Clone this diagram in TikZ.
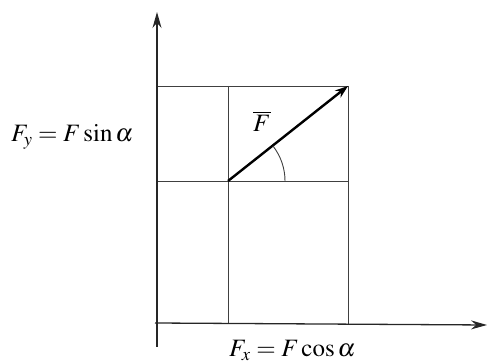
\documentclass[tikz,border=0pt]{standalone}
\usepackage{mathptmx}
\usetikzlibrary{arrows.meta,calc}
\begin{document}
\begin{tikzpicture}[x=1pt,y=-1pt,
  gridline/.style={draw=black!75,line width=0.9pt},
  axisline/.style={draw=black!85,line width=1.3pt},
  force/.style={draw=black,line width=2.4pt,-{Stealth[length=13pt,width=9pt]}},
  lbl/.style={inner sep=0pt,font=\fontsize{25}{29}\selectfont}]
\useasboundingbox (0,0) rectangle (488,363);
% named points
\coordinate (Ybot) at (157,347);
\coordinate (Ytop) at (157,12);
\coordinate (Xl) at (155,323);
\coordinate (Xr) at (487,325);
\coordinate (TL) at (157,86);
\coordinate (TM) at (228,86);
\coordinate (TR) at (348,86);
\coordinate (ML) at (157,181);
\coordinate (O) at (228,181);
\coordinate (MR) at (348,181);
\coordinate (BM) at (228,323);
\coordinate (BR) at (348,324);
% grid
\draw[gridline] (TL) -- (TR) -- (BR);
\draw[gridline] (ML) -- (MR);
\draw[gridline] (TM) -- (BM);
% axes
\draw[axisline,-{Stealth[length=16pt,width=9pt]}] (Ybot) -- (Ytop);
\draw[axisline,-{Stealth[length=16pt,width=9pt]}] (Xl) -- (Xr);
% force
\draw[force] (O) -- (TR);
% angle arc
\draw[gridline] ($(O)+(57,0)$) arc[start angle=0,end angle=-38,radius=57];
% labels
\node[lbl,anchor=base west] (fy) at (11,142) {$F_y = F\sin\alpha$};
\node[lbl,anchor=base west] (fb) at (253,132) {$\overline{F}$};
\node[lbl,anchor=base west] (fx) at (229,357) {$F_x = F\cos\alpha$};
\end{tikzpicture}
\end{document}
